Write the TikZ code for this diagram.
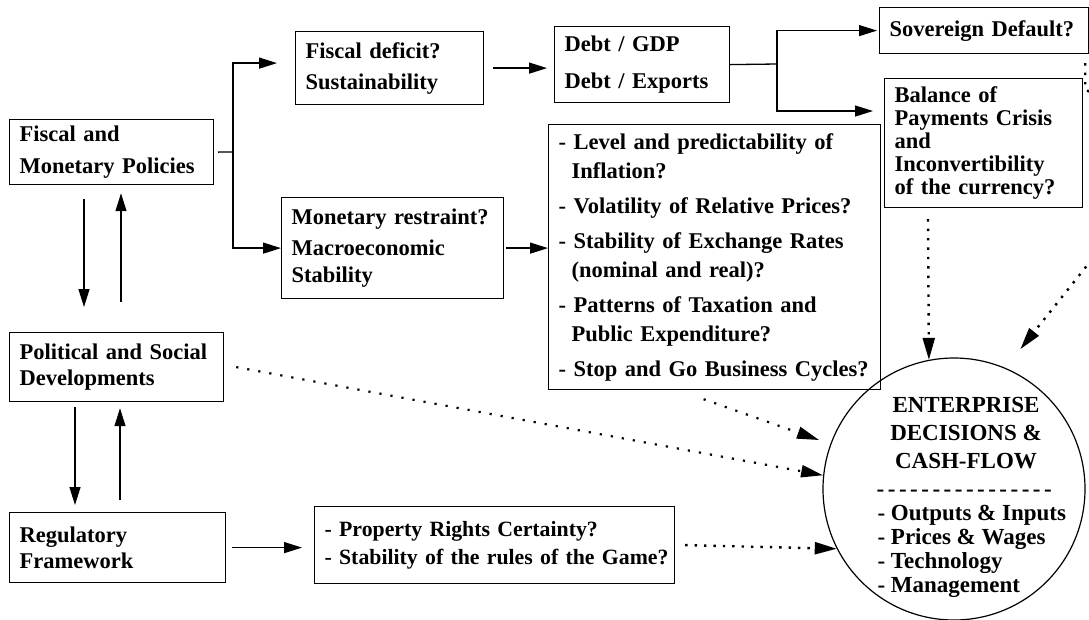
\documentclass[tikz,border=0pt]{standalone}
\usepackage{fontspec}
\setmainfont{Liberation Serif}
\usetikzlibrary{arrows.meta, positioning, calc}

% row of separate hyphens (no dash ligatures)
\newcommand\dashrow{\foreach \k in {1,...,16}{-\kern3.5pt}}

\tikzset{
  infobox/.style n args={3}{
    draw, line width=1.2pt, anchor=north west, align=left,
    inner xsep=10pt, inner ysep=4pt,
    text width=#1pt-20pt, minimum height=#2pt,
    font=\fontsize{22.5}{#3}\selectfont\bfseries
  },
  flowline/.style={line width=1.3pt},
  darrow/.style={flowline, -{Triangle[length=18pt, width=11pt]}},
  dotline/.style={line width=2.4pt, dash pattern=on 2.4pt off 7pt},
  dotarrow/.style={dotline, -{Triangle[length=22pt, width=12pt]}},
  finedots/.style={line width=2.2pt, dash pattern=on 2.2pt off 9pt}
}

\begin{document}
\begin{tikzpicture}[x=1pt, y=-1pt]
  \useasboundingbox (0,0) rectangle (1089,619);

  % left column
  \node[infobox={204}{65}{32}] (fmp) at (9,119) {Fiscal and\\Monetary Policies};
  \node[infobox={214}{69}{26}] (pol) at (9,332) {Political and Social\\Developments};
  \node[infobox={216}{70}{26}] (reg) at (9,512) {Regulatory\\Framework};

  % middle column
  \node[infobox={188}{73}{31}] (fd) at (295,31) {Fiscal deficit?\\Sustainability};
  \node[infobox={222}{101}{27}] (mr) at (281,197) {Monetary restraint?\\[4pt]Macroeconomic\\Stability};
  \node[infobox={360}{77}{28}, font=\fontsize{21.8}{28}\selectfont\bfseries] (prop) at (314,506) {\mbox{- Property Rights Certainty?}\\\mbox{- Stability of the rules of the Game?}};
  \node[infobox={175}{76}{37}] (debt) at (554,26) {Debt / GDP\\Debt / Exports};
  \node[infobox={332}{265}{29}] (lvl) at (548,124) {- Level and predictability of\\\hspace*{13pt}Inflation?\\[6pt]- Volatility of Relative Prices?\\[6pt]- Stability of Exchange Rates\\\hspace*{13pt}(nominal and real)?\\[6pt]- Patterns of Taxation and\\\hspace*{13pt}Public Expenditure?\\[6pt]- Stop and Go Business Cycles?};

  % right column
  \node[infobox={209}{46}{28}] (sov) at (879,7) {Sovereign Default?};
  \node[infobox={198}{129}{23}] (bop) at (884,78) {Balance of\\Payments Crisis\\and\\Inconvertibility\\of the currency?};

  % enterprise circle
  \node[circle, draw, line width=1.2pt, minimum size=262pt] (ent) at (954,489) {};
  \node[font=\fontsize{23}{28}\selectfont\bfseries, align=center] (entitle) at (966,447) {ENTERPRISE\\DECISIONS \&\\CASH-FLOW\\\dashrow};
  \node[font=\fontsize{23}{24}\selectfont\bfseries, align=left, anchor=west] (entlist) at (874,551) {- Outputs \& Inputs\\- Prices \& Wages\\- Technology\\- Management};

  % forks
  \coordinate (fork1) at (233,152);
  \coordinate (fork2) at (777,64);

  \draw[flowline] ([xshift=4pt]fmp.east) -- (fork1);
  \draw[darrow] (fork1) |- ([shift={(-18,-5)}]fd.west);
  \draw[darrow] (fork1) |- (mr.west);
  \draw[darrow] ([xshift=9pt]fd.east) -- ($(debt.west |- fd.east)+(-7,0)$);
  \draw[flowline] (debt.east) -- (fork2);
  \draw[darrow] (fork2) |- ([xshift=-2pt]sov.west);
  \draw[darrow] (fork2) |- ($(bop.north west)+(-11,33)$);
  \draw[darrow] ([xshift=2pt]mr.east) -- (mr.east -| lvl.west);

  % feedback between the left boxes
  \draw[darrow] ($(fmp.south west)+(75,14)$) -- ($(pol.north west)+(75,-25)$);
  \draw[darrow] ($(pol.north west)+(112,-30)$) -- ($(fmp.south west)+(112,8)$);
  \draw[darrow] ($(pol.south west)+(66,5)$) -- ($(reg.north west)+(66,-7)$);
  \draw[darrow] ($(reg.north west)+(111,-12)$) -- ($(pol.south west)+(111,6)$);
  \draw[darrow] ([xshift=6pt]reg.east) -- ($(reg.east -| prop.west)+(-12,0)$);

  % dotted influences on the enterprise
  \draw[dotarrow] ($(bop.south west)+(44,11)$) -- (ent.101);
  \draw[dotarrow, finedots, shorten >=12pt] ($(lvl.south)+(-11,9)$) -- (ent.160);
  \draw[dotarrow, finedots] ([xshift=12pt]pol.east) -- (ent.174);
  \draw[dotarrow] ([xshift=10pt]prop.east) -- (ent.207);
  \draw[dotarrow, shorten >=24pt] ($(sov.south east)+(-4,9)$) -- ++(0,26) -- (1096,96) -- (1105,243) -- (ent.67);
\end{tikzpicture}
\end{document}
